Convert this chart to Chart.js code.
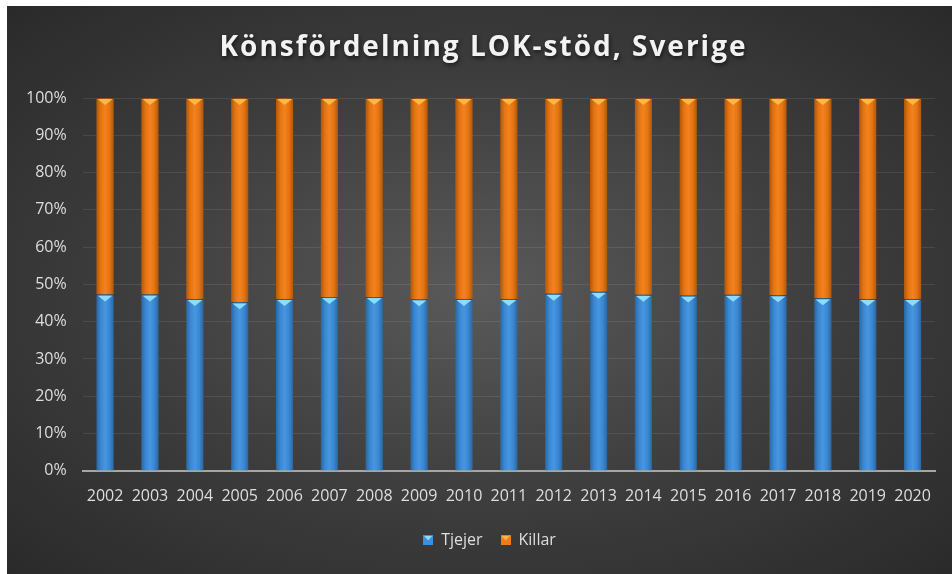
<!DOCTYPE html>
<html>
<head>
<meta charset="utf-8">
<script src="https://cdn.jsdelivr.net/npm/chart.js@4"></script>
<style>
  html, body { margin: 0; padding: 0; background: #fff; }
  #wrap {
    position: absolute; left: 7px; top: 6px; width: 945px; height: 568px;
    background: radial-gradient(ellipse at 50% 50%, #5a5a5a 0%, #3c3c3c 55%, #2a2a2a 100%);
  }
</style>
</head>
<body>
<div id="wrap"><canvas id="chart"></canvas></div>
<script>
// Andel tjejer / killar per år (procent)
const years = ['2002', '2003', '2004', '2005', '2006', '2007', '2008', '2009', '2010', '2011',
               '2012', '2013', '2014', '2015', '2016', '2017', '2018', '2019', '2020'];
const tjejer = [47.3, 47.3, 46.1, 45.2, 46.1, 46.6, 46.6, 46.0, 46.1, 46.1,
                47.5, 48.0, 47.2, 47.0, 47.2, 47.1, 46.3, 46.1, 46.1];
const killar = [52.7, 52.7, 53.9, 54.8, 53.9, 53.4, 53.4, 54.0, 53.9, 53.9,
                52.5, 52.0, 52.8, 53.0, 52.8, 52.9, 53.7, 53.9, 53.9];
const yTicks = [0, 10, 20, 30, 40, 50, 60, 70, 80, 90, 100];

const titleText = 'Könsfördelning LOK-stöd, Sverige';
const textColor = '#dedede';
const barColors = ['#3d8fde', '#f27b12'];
const triColors = ['#8cdcff', '#ffb649'];

// liten ikon för legenden (fyrkant med triangel)
function legendIcon(fill, tri) {
  const c = document.createElement('canvas');
  c.width = 10; c.height = 10;
  const g = c.getContext('2d');
  g.fillStyle = fill;
  g.fillRect(0, 0, 10, 10);
  g.fillStyle = tri;
  g.beginPath();
  g.moveTo(1, 1); g.lineTo(9, 1); g.lineTo(5, 5.5);
  g.closePath();
  g.fill();
  return c;
}

// titel med bokstavsavstånd och skugga
const titlePlugin = {
  id: 'titel',
  afterLayout(chart) {
    // legenden sitter lite till höger om mitten i originalet
    chart.legend.left += 17;
    chart.legend.right += 17;
  },
  afterDraw(chart) {
    const ctx = chart.ctx;
    ctx.save();
    ctx.font = 'bold 28px "Open Sans"';
    ctx.letterSpacing = '2px';
    ctx.textAlign = 'center';
    ctx.textBaseline = 'middle';
    ctx.fillStyle = '#f2f2f2';
    ctx.shadowColor = 'rgba(0,0,0,0.6)';
    ctx.shadowBlur = 4;
    ctx.shadowOffsetX = 1;
    ctx.shadowOffsetY = 2;
    ctx.fillText(titleText, chart.width / 2 + 4, 42);
    ctx.restore();
  }
};

// skuggning och triangel överst på varje stapel
const bevelPlugin = {
  id: 'bevel',
  afterDatasetsDraw(chart) {
    const ctx = chart.ctx;
    chart.data.datasets.forEach((ds, i) => {
      const meta = chart.getDatasetMeta(i);
      meta.data.forEach(bar => {
        const p = bar.getProps(['x', 'y', 'base', 'width'], true);
        const left = p.x - p.width / 2;
        const top = Math.min(p.y, p.base);
        const h = Math.abs(p.base - p.y);
        ctx.save();
        const g = ctx.createLinearGradient(left, 0, left + p.width, 0);
        g.addColorStop(0, 'rgba(0,0,0,0.28)');
        g.addColorStop(0.25, 'rgba(0,0,0,0.05)');
        g.addColorStop(0.5, 'rgba(255,255,255,0.06)');
        g.addColorStop(0.75, 'rgba(0,0,0,0.05)');
        g.addColorStop(1, 'rgba(0,0,0,0.28)');
        ctx.fillStyle = g;
        ctx.fillRect(left, top, p.width, h);
        ctx.fillStyle = triColors[i];
        ctx.beginPath();
        ctx.moveTo(left + 1, top + 1);
        ctx.lineTo(left + p.width - 1, top + 1);
        ctx.lineTo(p.x, top + 7);
        ctx.closePath();
        ctx.fill();
        ctx.fillStyle = 'rgba(0,0,0,0.35)';
        ctx.fillRect(left, top, p.width, 1);
        ctx.restore();
      });
    });
  }
};

new Chart(document.getElementById('chart'), {
  type: 'bar',
  data: {
    labels: years,
    datasets: [
      { label: 'Tjejer', data: tjejer, backgroundColor: barColors[0],
        pointStyle: legendIcon(barColors[0], triColors[0]) },
      { label: 'Killar', data: killar, backgroundColor: barColors[1],
        pointStyle: legendIcon(barColors[1], triColors[1]) }
    ]
  },
  options: {
    responsive: true,
    maintainAspectRatio: false,
    animation: false,
    layout: { padding: { top: 92, left: 3, right: 17, bottom: 16 } },
    datasets: { bar: { categoryPercentage: 1, barPercentage: 0.38 } },
    plugins: {
      title: { display: false },
      tooltip: { enabled: false },
      legend: {
        position: 'bottom',
        labels: {
          usePointStyle: true,
          boxWidth: 10,
          boxHeight: 10,
          color: textColor,
          font: { family: 'Open Sans', size: 16 },
          padding: 18
        }
      }
    },
    scales: {
      x: {
        stacked: true,
        grid: { display: false },
        border: { color: '#a6a6a6', width: 2 },
        ticks: { color: textColor, font: { family: 'Open Sans', size: 16 }, padding: 8, maxRotation: 0 }
      },
      y: {
        stacked: true,
        min: 0,
        max: 100,
        afterBuildTicks: axis => { axis.ticks = yTicks.map(v => ({ value: v })); },
        grid: { color: 'rgba(255,255,255,0.09)', lineWidth: 1, drawTicks: false },
        border: { display: false },
        ticks: { color: textColor, font: { family: 'Open Sans', size: 16 }, padding: 16,
                 callback: v => v + '%' }
      }
    }
  },
  plugins: [titlePlugin, bevelPlugin]
});
</script>
</body>
</html>
